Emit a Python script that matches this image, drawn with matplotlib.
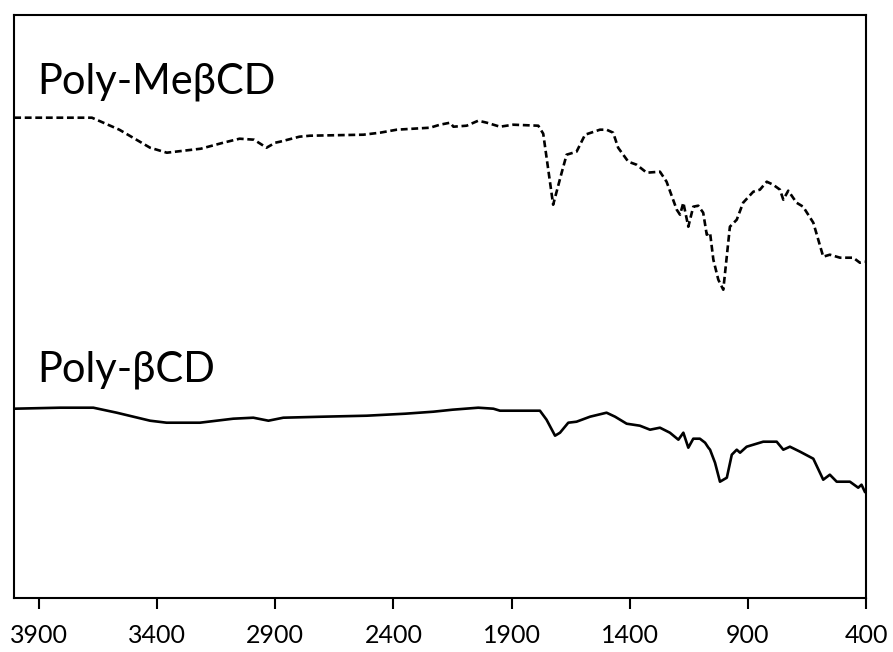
import numpy as np
import matplotlib.pyplot as plt

plt.rcParams['font.family'] = ['Lato', 'DejaVu Sans']

# Poly-MeBCD spectrum (dashed), wavenumber vs offset transmittance (a.u.)
wn_me = [4005, 3900, 3676, 3560, 3430, 3359, 3215, 3120, 3051, 2990, 2937, 2900, 2880,
         2798, 2753, 2527, 2457, 2386, 2245, 2203, 2160, 2146, 2090, 2041, 2005, 1977,
         1949, 1893, 1787, 1766, 1724, 1688, 1667, 1625, 1589, 1526, 1498, 1470, 1449,
         1406, 1371, 1328, 1272, 1244, 1201, 1187, 1173, 1152, 1131, 1110, 1089, 1074,
         1060, 1046, 1025, 1004, 976, 947, 920, 877, 849, 820, 793, 764, 750, 729, 694,
         666, 623, 581, 553, 510, 454, 426, 405]
t_me = [480, 480, 480, 468, 450, 445, 449, 455, 459, 458, 450, 455, 456,
        461, 462, 463, 465, 468, 470, 473, 475, 471, 472, 477, 475, 473,
        471, 473, 472, 464, 393, 425, 443, 446, 463, 468, 468, 465, 450,
        436, 433, 425, 426, 416, 388, 383, 395, 371, 391, 392, 385, 363,
        365, 338, 318, 308, 371, 378, 395, 406, 408, 416, 413, 408, 398,
        407, 395, 391, 375, 341, 343, 340, 340, 335, 336]

# Poly-BCD spectrum (solid)
wn_b = [4005, 3811, 3670, 3571, 3430, 3360, 3219, 3078, 2993, 2929, 2866, 2700, 2513,
        2350, 2231, 2150, 2041, 1977, 1949, 1880, 1780, 1752, 1716, 1695, 1660, 1625,
        1568, 1498, 1462, 1413, 1357, 1314, 1272, 1230, 1194, 1173, 1152, 1131, 1103,
        1081, 1067, 1060, 1039, 1018, 989, 968, 947, 933, 905, 835, 778, 750, 722, 679,
        623, 581, 553, 524, 468, 433, 419, 405]
t_b = [189, 190, 190, 185, 177, 175, 175, 179, 180, 177, 180, 181, 182,
       184, 186, 188, 190, 189, 187, 187, 187, 178, 162, 165, 175, 176,
       181, 185, 181, 174, 172, 168, 170, 165, 158, 165, 150, 159, 159,
       155, 150, 148, 135, 116, 120, 143, 148, 145, 151, 156, 156, 148, 151, 146,
       139, 118, 123, 116, 116, 110, 113, 106]

fig = plt.figure(figsize=(8.93, 6.52), dpi=100)
ax = fig.add_axes([14/893, (652-597.7)/652, 852/893, 582.7/652])

ax.plot(wn_me, t_me, color='black', lw=1.9, ls=(0, (2.6, 1.4)))
ax.plot(wn_b, t_b, color='black', lw=1.9)

ax.set_xlim(4005.8, 400)
ax.set_ylim(0, 582.7)
ax.set_xticks(np.arange(3900, 399, -500))
ax.set_yticks([])
ax.tick_params(axis='x', direction='out', length=8, width=1.5, labelsize=18, pad=11)
for s in ax.spines.values():
    s.set_linewidth(1.5)

ax.text(0.027, 0.866, 'Poly-MeβCD', transform=ax.transAxes, fontsize=30, va='baseline')
ax.text(0.027, 0.371, 'Poly-βCD', transform=ax.transAxes, fontsize=30, va='baseline')

fig.savefig('out.png', dpi=100)
